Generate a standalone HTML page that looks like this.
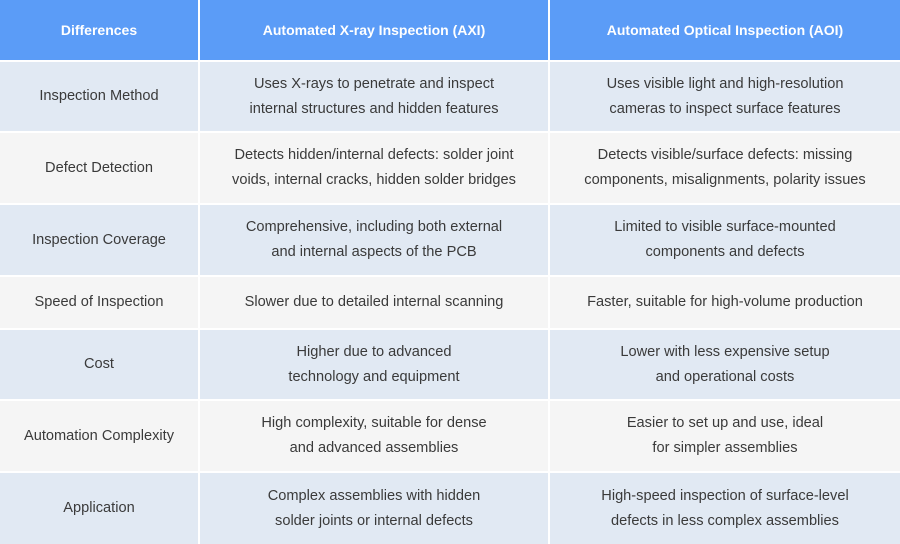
<!DOCTYPE html>
<html><head><meta charset="utf-8"><style>
body{margin:0;width:900px;height:544px;background:#fff;overflow:hidden;font-family:"Liberation Sans",Arial,sans-serif}
.c{position:absolute;display:flex;align-items:center;justify-content:center;text-align:center;font-size:14.6px;color:#3a3a3a;line-height:25px}
.h{background:#5b9cf7;color:#fff;font-weight:bold;font-size:14px}
.o{background:#e1e9f3}.e{background:#f5f5f5}
</style></head><body>
<div class="c h" style="left:0;top:0;width:198px;height:60px">Differences</div>
<div class="c h" style="left:200px;top:0;width:348px;height:60px">Automated X-ray Inspection (AXI)</div>
<div class="c h" style="left:550px;top:0;width:350px;height:60px">Automated Optical Inspection (AOI)</div>

<div class="c o" style="left:0;top:62px;width:198px;height:69px">Inspection Method</div>
<div class="c o" style="left:200px;top:62px;width:348px;height:69px">Uses X-rays to penetrate and inspect<br>internal structures and hidden features</div>
<div class="c o" style="left:550px;top:62px;width:350px;height:69px">Uses visible light and high-resolution<br>cameras to inspect surface features</div>

<div class="c e" style="left:0;top:133px;width:198px;height:70px">Defect Detection</div>
<div class="c e" style="left:200px;top:133px;width:348px;height:70px">Detects hidden/internal defects: solder joint<br>voids, internal cracks, hidden solder bridges</div>
<div class="c e" style="left:550px;top:133px;width:350px;height:70px">Detects visible/surface defects: missing<br>components, misalignments, polarity issues</div>

<div class="c o" style="left:0;top:205px;width:198px;height:70px">Inspection Coverage</div>
<div class="c o" style="left:200px;top:205px;width:348px;height:70px">Comprehensive, including both external<br>and internal aspects of the PCB</div>
<div class="c o" style="left:550px;top:205px;width:350px;height:70px">Limited to visible surface-mounted<br>components and defects</div>

<div class="c e" style="left:0;top:277px;width:198px;height:51px">Speed of Inspection</div>
<div class="c e" style="left:200px;top:277px;width:348px;height:51px">Slower due to detailed internal scanning</div>
<div class="c e" style="left:550px;top:277px;width:350px;height:51px">Faster, suitable for high-volume production</div>

<div class="c o" style="left:0;top:330px;width:198px;height:69px">Cost</div>
<div class="c o" style="left:200px;top:330px;width:348px;height:69px">Higher due to advanced<br>technology and equipment</div>
<div class="c o" style="left:550px;top:330px;width:350px;height:69px">Lower with less expensive setup<br>and operational costs</div>

<div class="c e" style="left:0;top:401px;width:198px;height:70px">Automation Complexity</div>
<div class="c e" style="left:200px;top:401px;width:348px;height:70px">High complexity, suitable for dense<br>and advanced assemblies</div>
<div class="c e" style="left:550px;top:401px;width:350px;height:70px">Easier to set up and use, ideal<br>for simpler assemblies</div>

<div class="c o" style="left:0;top:473px;width:198px;height:71px">Application</div>
<div class="c o" style="left:200px;top:473px;width:348px;height:71px">Complex assemblies with hidden<br>solder joints or internal defects</div>
<div class="c o" style="left:550px;top:473px;width:350px;height:71px">High-speed inspection of surface-level<br>defects in less complex assemblies</div>
</body></html>
